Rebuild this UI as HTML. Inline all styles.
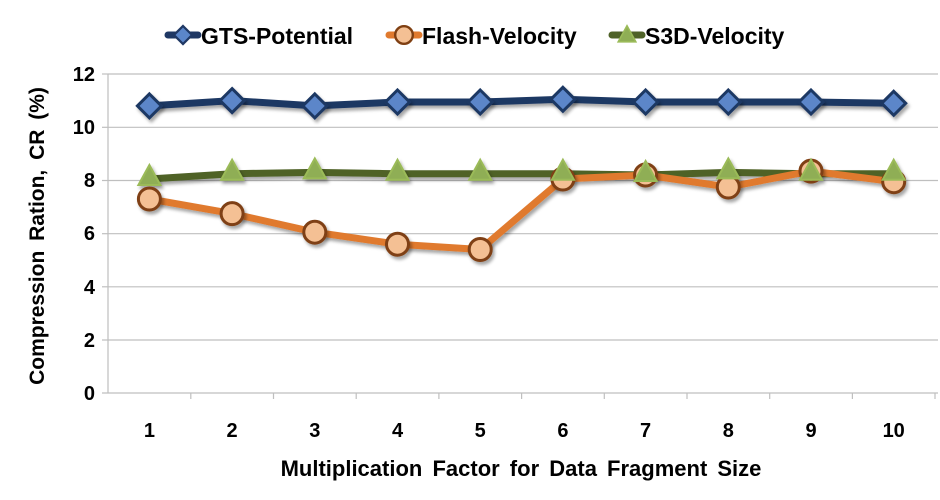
<!DOCTYPE html>
<html><head><meta charset="utf-8"><style>
html,body{margin:0;padding:0;background:#fff;}
svg{display:block;font-family:"Liberation Sans",Arial,sans-serif;font-weight:bold;}
</style></head><body>
<svg width="940" height="500" viewBox="0 0 940 500" xmlns="http://www.w3.org/2000/svg">
<defs>
<filter id="sh" x="-20%" y="-20%" width="140%" height="160%"><feDropShadow dx="2" dy="3" stdDeviation="1.5" flood-color="#000" flood-opacity="0.35"/></filter>
<g id="dia"><path d="M0,-12 L12,0 L0,12 L-12,0 Z" fill="#5b86c9" stroke="#1f3864" stroke-width="3"/></g>
<g id="cir"><circle r="11" fill="#f4c094" stroke="#7f3f12" stroke-width="3"/></g>
<g id="tri"><path d="M0,-14 L11,6 L-11,6 Z" fill="#8fae55" stroke="#9bbb59" stroke-width="2"/></g>
</defs>
<g stroke="#bfbfbf" stroke-width="1.2">
<line x1="108" y1="74" x2="938" y2="74"/>
<line x1="108" y1="127.3" x2="938" y2="127.3"/>
<line x1="108" y1="180.5" x2="938" y2="180.5"/>
<line x1="108" y1="233.7" x2="938" y2="233.7"/>
<line x1="108" y1="286.8" x2="938" y2="286.8"/>
<line x1="108" y1="340" x2="938" y2="340"/>
<line x1="102" y1="393" x2="938" y2="393"/>
<line x1="108" y1="74" x2="108" y2="393"/>
<line x1="102" y1="74" x2="108" y2="74"/><line x1="102" y1="127.3" x2="108" y2="127.3"/><line x1="102" y1="180.5" x2="108" y2="180.5"/><line x1="102" y1="233.7" x2="108" y2="233.7"/><line x1="102" y1="286.8" x2="108" y2="286.8"/><line x1="102" y1="340" x2="108" y2="340"/>
<line x1="190.8" y1="393" x2="190.8" y2="399"/><line x1="273.5" y1="393" x2="273.5" y2="399"/><line x1="356.2" y1="393" x2="356.2" y2="399"/><line x1="438.9" y1="393" x2="438.9" y2="399"/><line x1="521.6" y1="393" x2="521.6" y2="399"/><line x1="604.3" y1="393" x2="604.3" y2="399"/><line x1="687" y1="393" x2="687" y2="399"/><line x1="769.7" y1="393" x2="769.7" y2="399"/><line x1="852.4" y1="393" x2="852.4" y2="399"/><line x1="935" y1="393" x2="935" y2="399"/>
</g>
<g font-size="20" text-anchor="end" fill="#000">
<text x="95" y="81">12</text><text x="95" y="134">10</text><text x="95" y="187">8</text><text x="95" y="240">6</text><text x="95" y="294">4</text><text x="95" y="347">2</text><text x="95" y="400">0</text>
</g>
<g font-size="20" text-anchor="middle" fill="#000">
<text x="149.4" y="437">1</text><text x="232.1" y="437">2</text><text x="314.8" y="437">3</text><text x="397.5" y="437">4</text><text x="480.2" y="437">5</text><text x="562.9" y="437">6</text><text x="645.6" y="437">7</text><text x="728.3" y="437">8</text><text x="811" y="437">9</text><text x="893.7" y="437">10</text>
</g>
<text x="521" y="476" font-size="22" text-anchor="middle" word-spacing="4">Multiplication Factor for Data Fragment Size</text>
<text transform="translate(44,236) rotate(-90)" font-size="21" text-anchor="middle" word-spacing="4">Compression Ration, CR (%)</text>
<g filter="url(#sh)" fill="none" stroke-width="7" stroke-linejoin="round">
<polyline stroke="#4f6228" points="149.4,179 232.1,173.7 314.8,172.4 397.5,173.7 480.2,173.7 562.9,173.7 645.6,175 728.3,172.4 811,173.7 893.7,173.7"/>
<polyline stroke="#e07a2e" points="149.4,199 232.1,213.6 314.8,232.2 397.5,244.2 480.2,249.5 562.9,179 645.6,175 728.3,187 811,171.1 893.7,181.7"/>
<polyline stroke="#1f3864" points="149.4,105.9 232.1,100.6 314.8,105.9 397.5,102 480.2,102 562.9,99.3 645.6,102 728.3,102 811,102 893.7,103.3"/>
</g>
<g filter="url(#sh)">
<use href="#cir" x="149.4" y="199"/><use href="#cir" x="232.1" y="213.6"/><use href="#cir" x="314.8" y="232.2"/><use href="#cir" x="397.5" y="244.2"/><use href="#cir" x="480.2" y="249.5"/><use href="#cir" x="562.9" y="179"/><use href="#cir" x="645.6" y="175"/><use href="#cir" x="728.3" y="187"/><use href="#cir" x="811" y="171.1"/><use href="#cir" x="893.7" y="181.7"/>
<use href="#tri" x="149.4" y="179"/><use href="#tri" x="232.1" y="173.7"/><use href="#tri" x="314.8" y="172.4"/><use href="#tri" x="397.5" y="173.7"/><use href="#tri" x="480.2" y="173.7"/><use href="#tri" x="562.9" y="173.7"/><use href="#tri" x="645.6" y="175"/><use href="#tri" x="728.3" y="172.4"/><use href="#tri" x="811" y="173.7"/><use href="#tri" x="893.7" y="173.7"/>
<use href="#dia" x="149.4" y="105.9"/><use href="#dia" x="232.1" y="100.6"/><use href="#dia" x="314.8" y="105.9"/><use href="#dia" x="397.5" y="102"/><use href="#dia" x="480.2" y="102"/><use href="#dia" x="562.9" y="99.3"/><use href="#dia" x="645.6" y="102"/><use href="#dia" x="728.3" y="102"/><use href="#dia" x="811" y="102"/><use href="#dia" x="893.7" y="103.3"/>
</g>
<g stroke-width="7" stroke-linecap="round">
<line x1="168" y1="35" x2="198" y2="35" stroke="#1f3864"/>
<line x1="389" y1="35" x2="419" y2="35" stroke="#e07a2e"/>
<line x1="612" y1="35" x2="642" y2="35" stroke="#4f6228"/>
</g>
<g transform="translate(183,35) scale(0.75)"><use href="#dia"/></g>
<g transform="translate(404,35) scale(0.8)"><use href="#cir"/></g>
<g transform="translate(627,37) scale(0.8)"><use href="#tri"/></g>
<g font-size="23" fill="#000">
<text x="201" y="44">GTS-Potential</text>
<text x="422" y="44">Flash-Velocity</text>
<text x="645" y="44">S3D-Velocity</text>
</g>
</svg>
</body></html>
